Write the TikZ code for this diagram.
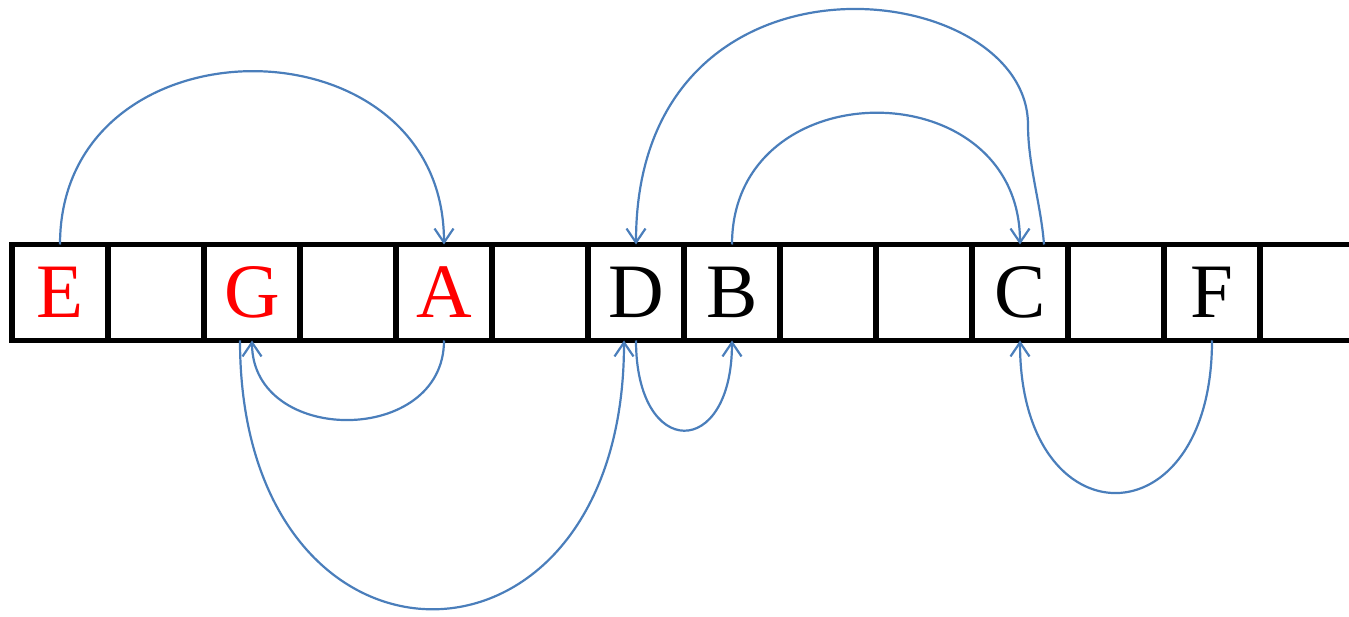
\documentclass[tikz,border=0pt]{standalone}
\usepackage{fontspec}
\setmainfont{Liberation Serif}
\usepackage{xcolor}
\usepackage{tikz}
\usetikzlibrary{positioning,arrows.meta}
\definecolor{linkblue}{RGB}{74,126,187}

\begin{document}
\begin{tikzpicture}[x=1pt,y=1pt,
                    cell/.style={draw,line width=5.5pt,minimum width=96pt,minimum height=96pt,
                    inner sep=0pt,outer sep=0pt,font=\fontsize{77}{80}\selectfont},
                    link/.style={draw=linkblue,line width=2.2pt,
                    -{Straight Barb[length=14pt,width=19pt]}}]

\useasboundingbox (0,0) rectangle (1349,616);

\node[cell,text=red] (c0) at (60,323.5) {E};
\node[cell] (c1) [right=0pt of c0] {};
\node[cell,text=red] (c2) [right=0pt of c1] {G};
\node[cell] (c3) [right=0pt of c2] {};
\node[cell,text=red] (c4) [right=0pt of c3] {A};
\node[cell] (c5) [right=0pt of c4] {};
\node[cell] (c6) [right=0pt of c5] {D};
\node[cell] (c7) [right=0pt of c6] {B};
\node[cell] (c8) [right=0pt of c7] {};
\node[cell] (c9) [right=0pt of c8] {};
\node[cell] (c10) [right=0pt of c9] {C};
\node[cell] (c11) [right=0pt of c10] {};
\node[cell] (c12) [right=0pt of c11] {F};
\node[cell] (c13) [right=0pt of c12] {};

% links over the cells
\draw[link] (c0.north) to[out=90,in=90,looseness=1.54] (c4.north);
\draw[link] (c4.south) to[out=-90,in=-90,looseness=1.41] (c2.south);
\draw[link] ([xshift=-12pt]c2.south) to[out=-90,in=-90,looseness=2.39] ([xshift=-12pt]c6.south);
\draw[link] (c6.south) to[out=-90,in=-90,looseness=3.2] (c7.south);
\draw[link] (c7.north) to[out=90,in=90,looseness=1.56] (c10.north);
\draw[link] ([xshift=24pt]c10.north) .. controls +(-3,40) and +(0,-40) .. ([shift={(8,119.5)}]c10.north)
    .. controls +(0,150) and +(0,315) .. (c6.north);
\draw[link] (c12.south) to[out=-90,in=-90,looseness=2.71] (c10.south);

\end{tikzpicture}
\end{document}
